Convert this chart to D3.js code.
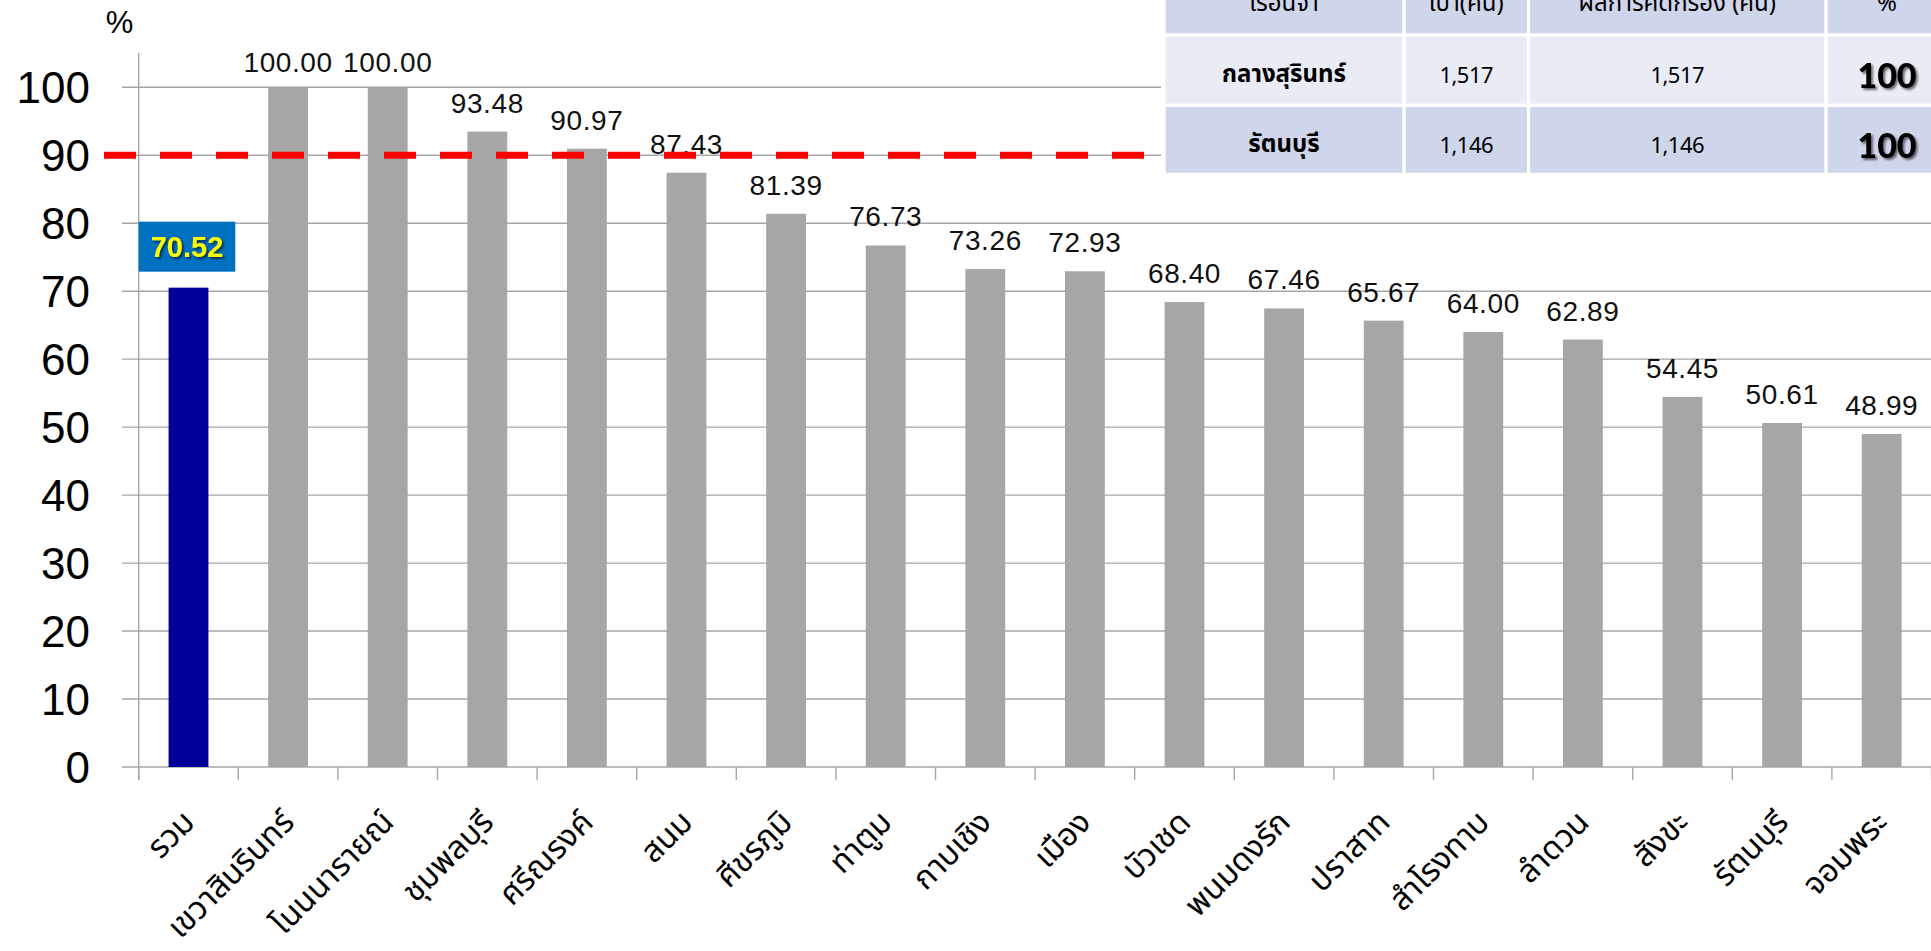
<!DOCTYPE html>
<html>
<head>
<meta charset="utf-8">
<script src="https://cdn.jsdelivr.net/npm/d3@7"></script>
<style>
  html, body { margin: 0; padding: 0; background: #ffffff; }
  svg { display: block; }
</style>
</head>
<body>
<svg id="chart" width="1931" height="951"></svg>
<script>
// District screening coverage (%), first entry is the overall total
const categories = ["รวม", "เขวาสินรินทร์", "โนนนารายณ์", "ชุมพลบุรี", "ศรีณรงค์", "สนม",
  "ศีขรภูมิ", "ท่าตูม", "กาบเชิง", "เมือง", "บัวเชด", "พนมดงรัก", "ปราสาท",
  "สำโรงทาบ", "ลำดวน", "สังขะ", "รัตนบุรี", "จอมพระ"];
const values = [70.52, 100.00, 100.00, 93.48, 90.97, 87.43, 81.39, 76.73, 73.26,
  72.93, 68.40, 67.46, 65.67, 64.00, 62.89, 54.45, 50.61, 48.99];
const yTickValues = [0, 10, 20, 30, 40, 50, 60, 70, 80, 90, 100];
const targetValue = 90;
const yUnit = "%";

// Summary table (prisons)
const tableHeaders = ["เรือนจำ", "เป้า(คน)", "ผลการคัดกรอง (คน)", "%"];
const tableRows = [
  ["กลางสุรินทร์", "1,517", "1,517", "100"],
  ["รัตนบุรี", "1,146", "1,146", "100"]
];

const svg = d3.select("#chart");
const W = 1931;
const plotLeft = 138.7, plotRight = 1931.5, plotBottom = 767, plotTop = 53.3;
const numFont = "'Liberation Sans', Arial, Helvetica, sans-serif";
const thaiFont = "'Noto Sans Thai', 'Noto Sans Thai UI', 'Noto Sans', sans-serif";

svg.append("rect").attr("width", W).attr("height", 951).attr("fill", "#fff");

const defs = svg.append("defs");
const sh = defs.append("filter").attr("id", "shadow").attr("x", "-20%").attr("y", "-20%")
  .attr("width", "150%").attr("height", "160%");
sh.append("feDropShadow").attr("dx", 2).attr("dy", 2).attr("stdDeviation", 1.3)
  .attr("flood-color", "#000").attr("flood-opacity", 0.55);

const x = d3.scaleBand().domain(categories).range([plotLeft, plotRight])
  .paddingInner(0.6).paddingOuter(0.3);
const step = x.step();
const y = d3.scaleLinear().domain([0, 105]).range([plotBottom, plotTop]);

// horizontal gridlines with left tick stubs
svg.append("g").selectAll("line").data(yTickValues).join("line")
  .attr("x1", 122).attr("x2", W)
  .attr("y1", d => y(d)).attr("y2", d => y(d))
  .attr("stroke", "#a6a6a6").attr("stroke-width", 1.4);

// y axis line
svg.append("line").attr("x1", plotLeft).attr("x2", plotLeft)
  .attr("y1", plotTop - 0.6).attr("y2", plotBottom + 13)
  .attr("stroke", "#a6a6a6").attr("stroke-width", 1.4);

// category boundary ticks
svg.append("g").selectAll("line").data(d3.range(categories.length + 1)).join("line")
  .attr("x1", i => plotLeft + i * step).attr("x2", i => plotLeft + i * step)
  .attr("y1", plotBottom).attr("y2", plotBottom + 13)
  .attr("stroke", "#a6a6a6").attr("stroke-width", 1.4);

// y tick labels
svg.append("g").selectAll("text").data(yTickValues).join("text")
  .attr("x", 90).attr("y", d => y(d) + 15.8)
  .attr("text-anchor", "end")
  .attr("font-family", numFont).attr("font-size", 44).attr("fill", "#000")
  .text(d => d);

svg.append("text").attr("x", 119.5).attr("y", 33)
  .attr("text-anchor", "middle").attr("font-family", numFont)
  .attr("font-size", 31).attr("fill", "#000").text(yUnit);

// bars
svg.append("g").selectAll("rect").data(values).join("rect")
  .attr("x", (d, i) => x(categories[i]))
  .attr("width", x.bandwidth())
  .attr("y", d => y(d))
  .attr("height", d => y(0) - y(d))
  .attr("fill", (d, i) => i === 0 ? "#000099" : "#a6a6a6");

// value labels for districts
svg.append("g").selectAll("text").data(values.slice(1)).join("text")
  .attr("x", (d, i) => x(categories[i + 1]) + x.bandwidth() / 2)
  .attr("y", d => Math.max(y(d) - 19, 71.7))
  .attr("text-anchor", "middle")
  .attr("font-family", numFont).attr("font-size", 28).attr("letter-spacing", 0.6)
  .attr("fill", "#111")
  .text(d => d.toFixed(2));

// highlighted total label
const cx0 = x(categories[0]) + x.bandwidth() / 2;
const boxW = 96.6, boxH = 50;
const boxBottom = y(values[0]) - 16;
svg.append("rect").attr("x", cx0 - boxW / 2 - 1.5).attr("y", boxBottom - boxH)
  .attr("width", boxW).attr("height", boxH).attr("fill", "#0070c0");
svg.append("text").attr("x", cx0 - 1.5).attr("y", boxBottom - boxH / 2 + 10.5)
  .attr("text-anchor", "middle").attr("font-family", numFont)
  .attr("font-size", 29).attr("font-weight", "bold").attr("fill", "#ffff00")
  .attr("filter", "url(#shadow)")
  .text(values[0].toFixed(2));

// target line
svg.append("line").attr("x1", 104).attr("x2", 1144)
  .attr("y1", y(targetValue)).attr("y2", y(targetValue))
  .attr("stroke", "#ff0000").attr("stroke-width", 7)
  .attr("stroke-dasharray", "32 24");

// rotated category labels
svg.append("g").selectAll("text").data(categories).join("text")
  .attr("transform", d => `translate(${x(d) + x.bandwidth() / 2 + 8},824) rotate(-45)`)
  .attr("text-anchor", "end")
  .attr("font-family", thaiFont).attr("font-size", 32).attr("fill", "#000")
  .text(d => d);

// summary table in the top-right corner
const colEdges = [1164, 1404, 1528.5, 1826, 1945];
const rowEdges = [-40, 35, 105.3, 174.5];
const rowFill = ["#cfd5ea", "#e9ebf5", "#cfd5ea"];
const tbl = svg.append("g");
tbl.append("rect").attr("x", colEdges[0] - 3).attr("y", -5)
  .attr("width", W).attr("height", rowEdges[3] + 8).attr("fill", "#fff");
const allRows = [tableHeaders].concat(tableRows);
allRows.forEach((row, r) => {
  row.forEach((cell, c) => {
    tbl.append("rect")
      .attr("x", colEdges[c] + 1.7).attr("y", rowEdges[r] + 1.7)
      .attr("width", colEdges[c + 1] - colEdges[c] - 3.4)
      .attr("height", rowEdges[r + 1] - rowEdges[r] - 3.4)
      .attr("fill", rowFill[r]);
    const cx = c === 3 ? 1887 : (colEdges[c] + colEdges[c + 1]) / 2;
    const t = tbl.append("text").attr("x", cx).attr("text-anchor", "middle").text(cell);
    if (r === 0) {
      t.attr("y", 11).attr("font-family", thaiFont).attr("font-size", 24)
        .attr("fill", "#000");
    } else if (c === 3) {
      t.attr("y", rowEdges[r] + 53).attr("font-family", "Lato, 'Liberation Sans', sans-serif")
        .attr("font-size", 34).attr("font-weight", 900).attr("fill", "#000")
        .attr("filter", "url(#shadow)");
    } else if (c === 0) {
      t.attr("y", rowEdges[r] + 47).attr("font-family", thaiFont).attr("font-size", 24)
        .attr("font-weight", "bold").attr("fill", "#000");
    } else {
      t.attr("y", rowEdges[r] + 48).attr("font-family", thaiFont).attr("font-size", 22)
        .attr("letter-spacing", -0.5).attr("fill", "#000");
    }
  });
});
</script>
</body>
</html>
